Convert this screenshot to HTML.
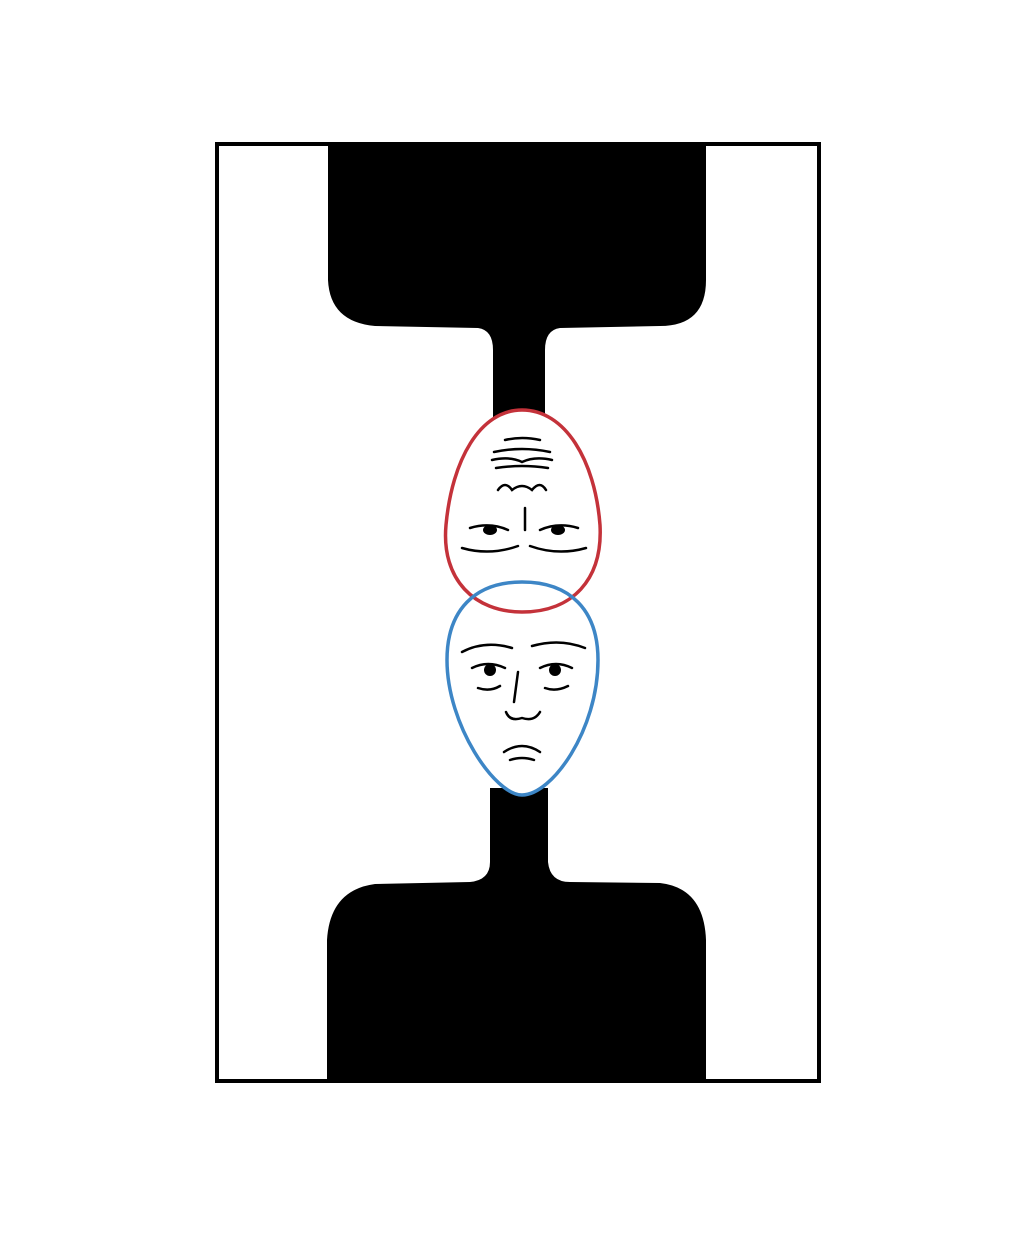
<!DOCTYPE html>
<html>
<head>
<meta charset="utf-8">
<style>
html,body{margin:0;padding:0;background:#fff;}
svg{display:block;}
</style>
</head>
<body>
<svg width="1027" height="1243" viewBox="0 0 1027 1243" xmlns="http://www.w3.org/2000/svg">
  <rect x="0" y="0" width="1027" height="1243" fill="#fff"/>
  <path fill="#000"
    d="M328,146 L706,146 L706,280 Q706,326 660,326 L560,328 Q545,330 545,350 L545,418 L493,418 L493,350 Q493,330 478,328 L375,326 Q330,322 328,280 Z"/>
  <path fill="#000"
    d="M490,788 L548,788 L548,862 Q550,882 570,882 L660,883 Q704,888 706,940 L706,1081 L327,1081 L327,940 Q330,890 375,884 L470,882 Q490,880 490,862 Z"/>
  <rect x="217" y="144" width="602" height="937" fill="none" stroke="#000" stroke-width="4"/>
  <!-- fills -->
  <path fill="#fff" d="M522,410 C480,410 452,460 446,525 C441,580 475,612 522,612 C572,612 603,580 600,525 C595,460 565,410 522,410 Z"/>
  <path fill="#fff" d="M522,582 C475,582 447,610 447,660 C447,725 495,795 522,795 C552,795 598,730 598,660 C598,610 570,582 522,582 Z"/>
  <g>
    <path fill="none" stroke="#c4323a" stroke-width="3.5"
      d="M522,410 C480,410 452,460 446,525 C441,580 475,612 522,612 C572,612 603,580 600,525 C595,460 565,410 522,410 Z"/>
    <g stroke="#000" stroke-width="2.5" fill="none" stroke-linecap="round">
      <path d="M505,440 Q522,436 540,440"/>
      <path d="M494,452 Q522,446 550,452"/>
      <path d="M492,460 Q510,456 522,462 Q535,456 552,460"/>
      <path d="M496,468 Q522,464 548,468"/>
      <path d="M498,490 Q505,480 512,490 Q522,482 532,490 Q540,480 546,490"/>
      <path d="M525,508 L525,530"/>
      <path d="M462,548 Q490,556 518,546"/>
      <path d="M530,546 Q558,556 586,548"/>
      <path d="M470,528 Q490,522 508,530"/>
      <path d="M540,530 Q558,522 578,528"/>
    </g>
    <ellipse cx="490" cy="530" rx="7" ry="5" fill="#000"/>
    <ellipse cx="558" cy="530" rx="7" ry="5" fill="#000"/>
  </g>
  <g>
    <path fill="none" stroke="#3d86c6" stroke-width="3.5"
      d="M522,582 C475,582 447,610 447,660 C447,725 495,795 522,795 C552,795 598,730 598,660 C598,610 570,582 522,582 Z"/>
    <g stroke="#000" stroke-width="2.5" fill="none" stroke-linecap="round">
      <path d="M462,652 Q485,640 512,648"/>
      <path d="M532,646 Q560,638 585,648"/>
      <path d="M472,668 Q488,660 505,668"/>
      <path d="M540,668 Q556,660 572,668"/>
      <path d="M518,672 L514,702"/>
      <path d="M506,712 Q510,722 522,718 Q534,722 540,712"/>
      <path d="M504,752 Q522,740 540,752"/>
      <path d="M510,760 Q522,756 534,760"/>
      <path d="M478,688 Q490,692 500,686"/>
      <path d="M545,688 Q556,692 568,686"/>
    </g>
    <circle cx="490" cy="670" r="6" fill="#000"/>
    <circle cx="555" cy="670" r="6" fill="#000"/>
  </g>
</svg>
</body>
</html>
